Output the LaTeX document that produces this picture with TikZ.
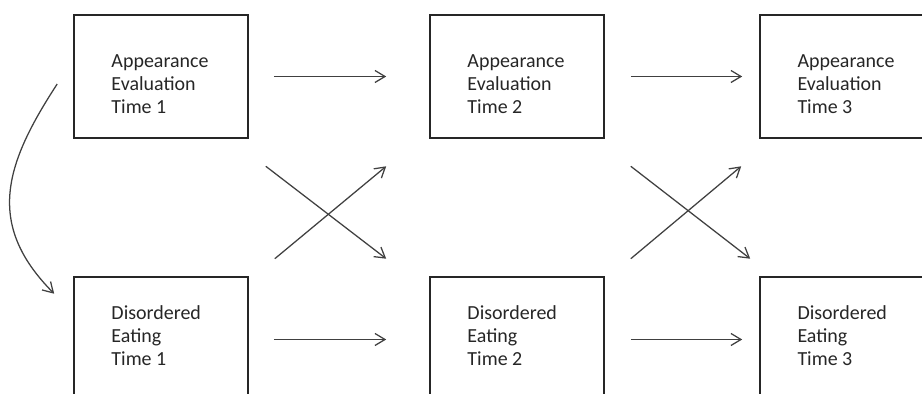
\documentclass[tikz,border=0pt]{standalone}
\usepackage{fontspec}
\setmainfont{Carlito}
\usetikzlibrary{positioning, arrows.meta}
\tikzstyle{box} = [rectangle, draw=black!85, line width=1.1pt, minimum width=4.35cm, minimum height=3.075cm, inner sep=0pt]
\tikzstyle{txt} = [align=left, inner sep=0pt, text=black!85, font=\fontsize{14.2}{16.4}\selectfont]
\tikzstyle{arrow} = [-{Straight Barb[length=2.5mm,width=3mm]}, draw=black!75, line width=0.9pt]

\begin{document}
\begin{tikzpicture}[x=0.025cm, y=0.025cm]
\clip (0,0) rectangle (922,394);
%boxes
\node[box] (ae1) at (161,317.5) {};
\node[box] (ae2) at (517,317.5) {};
\node[box] (ae3) at (847,317.5) {};
\node[box] (de1) at (161,55.5) {};
\node[box] (de2) at (517,55.5) {};
\node[box] (de3) at (847,55.5) {};
%texts
\node[txt, below right=1cm and 0.95cm of ae1.north west] (t1) {Appearance\\Evaluation\\Time 1};
\node[txt, below right=1cm and 0.95cm of ae2.north west] (t2) {Appearance\\Evaluation\\Time 2};
\node[txt, below right=1cm and 0.95cm of ae3.north west] (t3) {Appearance\\Evaluation\\Time 3};
\node[txt, below right=0.725cm and 0.95cm of de1.north west] (t4) {Disordered\\Eating\\Time 1};
\node[txt, below right=0.725cm and 0.95cm of de2.north west] (t5) {Disordered\\Eating\\Time 2};
\node[txt, below right=0.725cm and 0.95cm of de3.north west] (t6) {Disordered\\Eating\\Time 3};
%arrows
\draw [arrow] ([shift={(25,0)}]ae1.east) -- ([shift={(-43,0)}]ae2.west);
\draw [arrow] ([shift={(26,0)}]ae2.east) -- ([shift={(-17,0)}]ae3.west);
\draw [arrow] ([shift={(25,-1)}]de1.east) -- ([shift={(-43,-1)}]de2.west);
\draw [arrow] ([shift={(26,-1)}]de2.east) -- ([shift={(-17,-1)}]de3.west);
\draw [arrow] ([shift={(17,-27.5)}]ae1.south east) -- ([shift={(-43,17.5)}]de2.north west);
\draw [arrow] ([shift={(26,17.5)}]de1.north east) -- ([shift={(-43,-27.5)}]ae2.south west);
\draw [arrow] ([shift={(26,-27.5)}]ae2.south east) -- ([shift={(-9,17.5)}]de3.north west);
\draw [arrow] ([shift={(26,17.5)}]de2.north east) -- ([shift={(-18,-27.5)}]ae3.south west);
\draw [arrow] ([shift={(-16,-7.5)}]ae1.west) .. controls (5,230) and (-15,170) .. ([shift={(-19,-17.5)}]de1.north west);
\end{tikzpicture}
\end{document}
